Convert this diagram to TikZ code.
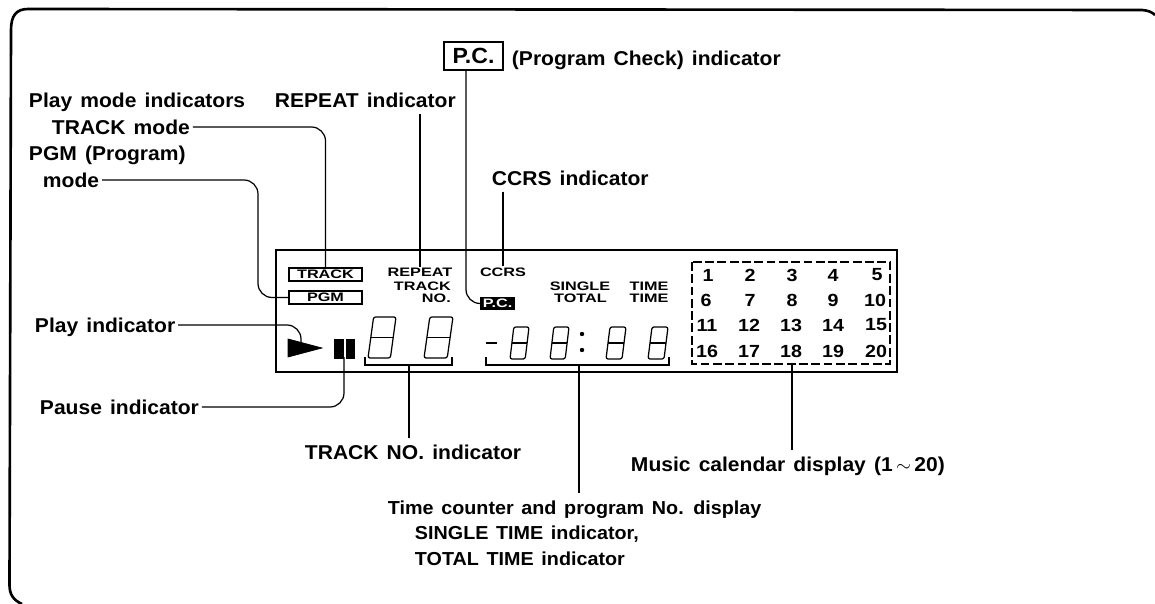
\documentclass[tikz,border=0pt]{standalone}
\usepackage{fontspec}
\setmainfont{Liberation Sans}
\newfontfamily\labelfont[FakeStretch=1.05,WordSpace=1.4]{Liberation Sans}
\newfontfamily\lcdfont[FakeStretch=1.32]{Liberation Sans}
\newfontfamily\calfont[FakeStretch=1.12]{Liberation Sans}
\usetikzlibrary{calc}
\def\segdigit(#1,#2)(#3,#4){\draw[line width=0.7pt, rounded corners=1.2pt] ($(#1,#2)+(0,0)$) -- ($(#1,#2)+(0.8*#3,0)$) -- ($(#1,#2)+(#3,#4)$) -- ($(#1,#2)+(0.2*#3,#4)$) -- cycle;
	\draw[line width=0.7pt] ($(#1,#2)+(0.1*#3,0.5*#4)$) -- ($(#1,#2)+(0.9*#3,0.5*#4)$);}
\tikzset{
	callout/.style={anchor=west, inner sep=1.5pt, text height=8pt, text depth=0pt, font=\labelfont\fontsize{11.4}{13}\selectfont\bfseries},
	subcallout/.style={callout, font=\labelfont\fontsize{10.7}{13}\selectfont\bfseries},
	lcdtext/.style={inner sep=0.5pt, font=\lcdfont\fontsize{7}{8}\selectfont\bfseries},
	calnum/.style={inner sep=0pt, font=\calfont\fontsize{10}{11}\selectfont\bfseries},
	leader/.style={line width=0.7pt, rounded corners=8pt},
	lcdbox/.style={draw, line width=0.8pt, minimum width=1.46cm, minimum height=0.26cm, inner sep=0pt}
}

\begin{document}
\begin{tikzpicture}[x=0.02cm, y=-0.02cm]
	%%%%% START %%%%%
	\useasboundingbox (0, 0) rectangle (1155, 604);
	
	\draw[line width=1.5pt] (22, 604) .. controls (13, 600) and (9.5, 594) .. (9.5, 585) -- (11, 30) .. controls (11, 16) and (16, 9) .. (28, 9) -- (1142, 10) .. controls (1148, 10.5) and (1152, 12) .. (1155, 15);
	\draw[line width=1.5pt] (276, 250) rectangle (897, 372);
	
	% labels
	\node[callout] (playmodes) at (26, 100) {Play mode indicators};
	\node[callout] (trackmode) at (49, 127) {TRACK mode};
	\node[callout] (pgmlabel) at (26, 153) {PGM (Program)};
	\node[callout] (pgmmode) at (40, 180) {mode};
	\node[callout] (repeatlabel) at (272, 100) {REPEAT indicator};
	\node[callout, anchor=center, draw, line width=0.8pt, minimum width=1.18cm, minimum height=0.56cm, text height=9pt, font=\labelfont\fontsize{12.5}{14}\selectfont\bfseries] (pclabel) at (473.5, 56) {P.C.};
	\node[callout] (pctext) at (509, 58) {(Program Check) indicator};
	\node[callout] (ccrslabel) at (489, 178) {CCRS indicator};
	\node[callout] (playlabel) at (32, 325) {Play indicator};
	\node[callout] (pauselabel) at (37, 407) {Pause indicator};
	\node[callout] (tracknolabel) at (302, 452) {TRACK NO. indicator};
	\node[callout] (musiclabel) at (628, 464) {Music calendar display (1\,$\sim$\,20)};
	\node[subcallout] (timelabel) at (385, 507) {Time counter and program No. display};
	\node[subcallout] (singlelabel) at (412, 532) {SINGLE TIME indicator,};
	\node[subcallout] (totallabel) at (412, 558) {TOTAL TIME indicator};
	
	% display texts
	\node[lcdbox, lcdtext] (trackbox) at (325.5, 274.5) {TRACK};
	\node[lcdbox, lcdtext] (pgmbox) at (325.5, 297.5) {PGM};
	\node[lcdtext] (repeattext) at (420, 272) {REPEAT};
	\node[lcdtext, anchor=east] (tracktext) at (452, 286) {TRACK};
	\node[lcdtext, anchor=east] (notext) at (452, 298) {NO.};
	\node[lcdtext] (ccrstext) at (503, 272) {CCRS};
	\node[lcdtext, fill=black, text=white, minimum width=0.7cm, minimum height=0.26cm] (pcbox) at (497.5, 303.5) {P.C.};
	\node[lcdtext] (singletext) at (580, 286) {SINGLE};
	\node[lcdtext, anchor=east] (totaltext) at (608, 298) {TOTAL};
	\node[lcdtext] (timetext) at (649, 286) {TIME};
	\node[lcdtext] (timetexttwo) at (649, 298) {TIME};
	
	% play and pause
	\draw[fill=black] (288, 339) -- (322, 348) -- (288, 357) -- cycle;
	\draw[fill=black] (334, 339) rectangle (343, 358);
	\draw[fill=black] (346, 339) rectangle (354, 358);
	
	% digits
	\segdigit(368,358)(28,-41);
	\segdigit(424,358)(29,-41);
	\draw[line width=1.2pt] (486, 343) -- (497, 343);
	\segdigit(510,359)(19,-32);
	\segdigit(550,359)(19,-32);
	\fill (582, 334) circle (2.2);
	\fill (582, 350) circle (2.2);
	\segdigit(606,359)(20,-32);
	\segdigit(648,359)(20,-32);
	
	% brackets
	\coordinate (trackbr) at (409, 365);
	\coordinate (timebr) at (579, 365);
	\draw[line width=0.9pt] (365, 357) |- (trackbr) -| (452, 357);
	\draw[line width=0.9pt] (486, 357) |- (timebr) -| (669, 357);
	
	% music calendar
	\draw[line width=0.8pt, dash pattern=on 5pt off 2pt] (692, 262) rectangle (890, 364);
	\coordinate (calbottom) at (792, 364);
	\foreach \num/\posx/\posy in {1/708/275, 2/750/275, 3/792/275, 4/833/275, 5/877/275,
		6/706/300, 7/750/300, 8/792/300, 9/833/300, 10/875/300,
		11/707/325, 12/749/325, 13/791/325, 14/833/325, 15/876/325,
		16/707/351, 17/749/351, 18/791/351, 19/833/351, 20/876/351}
		\node[calnum] (cal\num) at (\posx, \posy) {\num};
	
	% connectors
	\coordinate (pgmbend) at (258, 240);
	\coordinate (pcdrop) at (466, 240);
	\draw[leader] (trackmode.east) -| (trackbox.north);
	\draw[leader] (pgmmode.east) -| (pgmbend) |- (pgmbox.west);
	\draw[leader, shorten <=2pt] (repeatlabel.south -| repeattext.north) -- (repeattext.north);
	\draw[leader] (pclabel.south -| pcdrop) |- (pcbox.west);
	\draw[leader, shorten <=2pt] (ccrslabel.south -| ccrstext.north) -- (ccrstext.north);
	\coordinate (playtip) at (301, 342);
	\coordinate (pausetop) at (344, 357);
	\draw[leader] (playlabel.east) -| (playtip);
	\draw[leader] (pauselabel.east) -| (pausetop);
	\draw[leader, shorten >=2pt] (trackbr) -- (trackbr |- tracknolabel.north);
	\draw[leader, shorten >=2pt] (timebr) -- (timebr |- timelabel.north);
	\draw[leader, shorten >=2pt] (calbottom) -- (calbottom |- musiclabel.north);
	
	%%%%% END %%%%%
\end{tikzpicture}
\end{document}
